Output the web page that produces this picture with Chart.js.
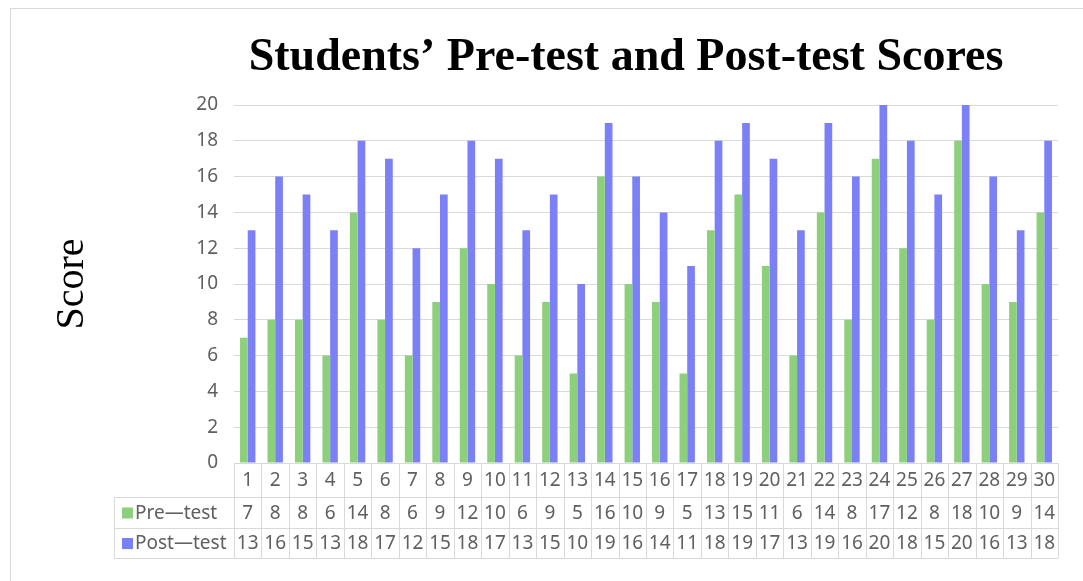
<html>
<head>
    <title>Students' Pre-test and Post-test Scores</title>
    <meta charset="utf-8"/>
    <script src="https://cdn.jsdelivr.net/npm/chart.js@4/dist/chart.umd.min.js"></script>
    <style>
        html, body { margin: 0; padding: 0; background: #fff; }
        .chart-container { position: relative; width: 1083px; height: 581px; }
    </style>
</head>

<body>
    <div class="chart-container">
        <canvas id="scoreChart"></canvas>
    </div>
    <script>
        // data
        const students = ['1', '2', '3', '4', '5', '6', '7', '8', '9', '10',
            '11', '12', '13', '14', '15', '16', '17', '18', '19', '20',
            '21', '22', '23', '24', '25', '26', '27', '28', '29', '30'];
        const preTest = [7, 8, 8, 6, 14, 8, 6, 9, 12, 10, 6, 9, 5, 16, 10, 9, 5, 13, 15, 11,
            6, 14, 8, 17, 12, 8, 18, 10, 9, 14];
        const postTest = [13, 16, 15, 13, 18, 17, 12, 15, 18, 17, 13, 15, 10, 19, 16, 14, 11, 18, 19, 17,
            13, 19, 16, 20, 18, 15, 20, 16, 13, 18];
        const seriesNames = ['Pre—test', 'Post—test'];
        const chartTitle = 'Students’ Pre-test and Post-test Scores';
        const yTitle = 'Score';

        const greenColor = '#8dd07b';
        const blueColor = '#7b80f6';
        const gridColor = '#d9d9d9';
        const textColor = '#606060';
        const sansFamily = '"Noto Sans", "DejaVu Sans", sans-serif';
        const tableFont = '19px ' + sansFamily;

        /**
         * Draws the frame and the title above the plot
         */
        const framePlugin = {
            id: 'frame',
            beforeDraw(chart) {
                const ctx = chart.ctx;
                ctx.save();
                ctx.fillStyle = '#fff';
                ctx.fillRect(0, 0, chart.width, chart.height);
                ctx.strokeStyle = gridColor;
                ctx.lineWidth = 1;
                ctx.strokeRect(10.5, 8.5, chart.width + 20, chart.height + 20);
                ctx.fillStyle = '#000';
                ctx.font = 'bold 46px "Liberation Serif", "Times New Roman", serif';
                ctx.textAlign = 'center';
                ctx.textBaseline = 'alphabetic';
                ctx.fillText(chartTitle, 626, 70);
                ctx.restore();
            }
        };

        /**
         * Draws the data table under the x axis
         */
        const tablePlugin = {
            id: 'dataTable',
            afterDraw(chart) {
                const ctx = chart.ctx;
                const x = chart.scales.x;
                const area = chart.chartArea;
                const step = (area.right - area.left) / students.length;
                const rows = [area.bottom, area.bottom + 34, area.bottom + 65, area.bottom + 95];
                const legendLeft = 114;

                ctx.save();
                ctx.strokeStyle = gridColor;
                ctx.lineWidth = 1;
                ctx.beginPath();
                // horizontal lines
                ctx.moveTo(area.left, rows[0] + 0.5);
                ctx.lineTo(area.right, rows[0] + 0.5);
                for (let r = 1; r < rows.length; r++) {
                    ctx.moveTo(legendLeft, rows[r] + 0.5);
                    ctx.lineTo(area.right, rows[r] + 0.5);
                }
                // vertical lines
                ctx.moveTo(legendLeft + 0.5, rows[1]);
                ctx.lineTo(legendLeft + 0.5, rows[3]);
                for (let i = 0; i <= students.length; i++) {
                    const px = Math.round(area.left + i * step) + 0.5;
                    ctx.moveTo(px, rows[0]);
                    ctx.lineTo(px, rows[3]);
                }
                ctx.stroke();

                ctx.font = tableFont;
                ctx.fillStyle = textColor;
                ctx.textAlign = 'center';
                ctx.textBaseline = 'middle';
                const rowValues = [students, preTest, postTest];
                for (let r = 0; r < 3; r++) {
                    const cy = (rows[r] + rows[r + 1]) / 2 + 1;
                    for (let i = 0; i < students.length; i++) {
                        ctx.fillText(String(rowValues[r][i]), x.getPixelForValue(i), cy);
                    }
                }

                // legend keys
                const keyColors = [greenColor, blueColor];
                ctx.textAlign = 'left';
                for (let s = 0; s < 2; s++) {
                    const cy = (rows[s + 1] + rows[s + 2]) / 2;
                    ctx.fillStyle = keyColors[s];
                    ctx.fillRect(legendLeft + 8, cy - 5, 11, 11);
                    ctx.fillStyle = textColor;
                    ctx.fillText(seriesNames[s], legendLeft + 21, cy + 1);
                }
                ctx.restore();
            }
        };

        const data = {
            labels: students,
            datasets: [{
                label: seriesNames[0],
                backgroundColor: greenColor,
                data: preTest,
            }, {
                label: seriesNames[1],
                backgroundColor: blueColor,
                data: postTest,
            }]
        };

        const config = {
            type: 'bar',
            data: data,
            options: {
                responsive: true,
                maintainAspectRatio: false,
                animation: false,
                datasets: {
                    bar: {
                        categoryPercentage: 0.56,
                        barPercentage: 1.0,
                    }
                },
                layout: {
                    padding: { left: 10, top: 105, right: 25, bottom: 118 }
                },
                plugins: {
                    legend: { display: false },
                    title: { display: false },
                    tooltip: { enabled: false }
                },
                scales: {
                    x: {
                        display: false,
                    },
                    y: {
                        min: 0,
                        max: 20,
                        ticks: {
                            stepSize: 2,
                            padding: 16,
                            color: textColor,
                            font: { family: sansFamily, size: 19 }
                        },
                        grid: {
                            color: gridColor,
                            drawTicks: false,
                        },
                        border: { display: false },
                        title: {
                            display: true,
                            text: yTitle,
                            color: '#000',
                            padding: { top: 38, bottom: 0 },
                            font: { family: '"Liberation Serif", "Times New Roman", serif', size: 40 }
                        },
                        afterFit(scale) {
                            scale.width = 224;
                        }
                    }
                }
            },
            plugins: [framePlugin, tablePlugin]
        };

        const scoreChart = new Chart(
            document.getElementById('scoreChart'),
            config
        );
    </script>
</body>
</html>
